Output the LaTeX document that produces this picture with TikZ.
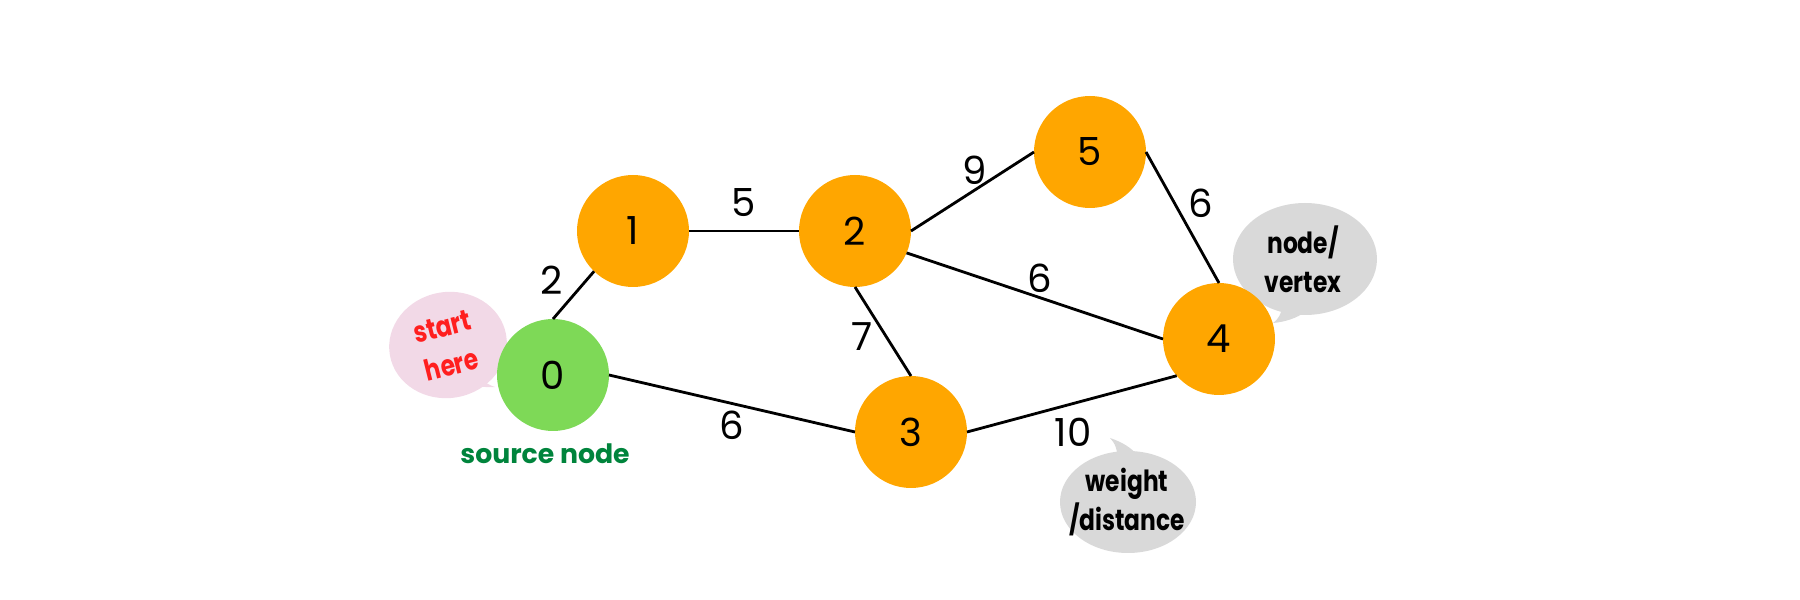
\documentclass[tikz,border=0pt]{standalone}
\usepackage{fontspec}
\setmainfont{Poppins}
\newfontfamily\bubfont{Poppins}[FakeStretch=0.8]
\definecolor{vorange}{HTML}{FFA600}
\definecolor{vgreen}{HTML}{7ED957}
\definecolor{srcgreen}{HTML}{00843C}
\definecolor{bubpink}{HTML}{F2D9E7}
\definecolor{bubgray}{HTML}{D9D9D9}
\definecolor{hintred}{HTML}{FF1F1F}
\begin{document}
\begin{tikzpicture}[
  vertex/.style={circle,fill=vorange,minimum size=1.12cm,inner sep=0pt,outer sep=0pt,font=\fontsize{11}{13}\selectfont},
  wlabel/.style={inner sep=1pt,font=\fontsize{11}{13}\selectfont},
  bubtext/.style={align=center,font=\bubfont\bfseries\fontsize{8.3}{11.2}\selectfont},
  edge/.style={line width=0.8pt}]
\useasboundingbox (0,0) rectangle (18,6);
% speech bubbles
\fill[bubpink,rotate around={10:(4.48,2.55)}](4.48,2.55) ellipse (0.59 and 0.53);
\fill[bubpink](4.62,2.14) .. controls (4.75,2.15) and (4.85,2.12) .. (4.95,2.13)
  .. controls (4.85,2.16) and (4.80,2.22) .. (4.78,2.30) -- cycle;
\fill[bubgray](13.05,3.41) ellipse (0.72 and 0.56);
\fill[bubgray](12.82,3.00) .. controls (12.83,2.90) and (12.80,2.82) .. (12.73,2.77)
  .. controls (12.85,2.78) and (12.97,2.82) .. (13.05,2.88) -- cycle;
\fill[bubgray](11.28,0.98) ellipse (0.68 and 0.51);
\fill[bubgray](11.17,1.40) .. controls (11.18,1.50) and (11.15,1.57) .. (11.10,1.62)
  .. controls (11.22,1.58) and (11.32,1.52) .. (11.38,1.44) -- cycle;
\node[bubtext,text=hintred,rotate=14] (hint) at (4.47,2.54) {start\\here};
\node[bubtext] (vtx) at (13.03,3.41) {node/\\vertex};
\node[bubtext] (wdist) at (11.27,0.98) {weight\\/distance};
% vertices
\node[vertex,fill=vgreen] (n0) at (5.53,2.25) {0};
\node[vertex] (n1) at (6.33,3.69) {1};
\node[vertex] (n2) at (8.55,3.69) {2};
\node[vertex] (n3) at (9.11,1.68) {3};
\node[vertex] (n4) at (12.19,2.61) {4};
\node[vertex] (n5) at (10.90,4.48) {5};
\node[text=srcgreen,font=\bfseries\fontsize{7.6}{10}\selectfont] (src) at (5.45,1.46) {source node};
% edges
\draw[edge](n0.north)--(n1.226);
\draw[edge](n1.east)--(n2.west);
\draw[edge](n2.east)--(n5.west);
\draw[edge](n2.-23)--(n4.west);
\draw[edge](n2.south)--(n3.north);
\draw[edge](n0.east)--(n3.west);
\draw[edge](n3.east)--(n4.221);
\draw[edge](n5.east)--(n4.north);
% weights
\node[wlabel] (w01) at (5.52,3.20) {2};
\node[wlabel] (w12) at (7.44,3.97) {5};
\node[wlabel] (w25) at (9.75,4.30) {9};
\node[wlabel] (w54) at (12.01,3.97) {6};
\node[wlabel] (w24) at (10.40,3.22) {6};
\node[wlabel] (w23) at (8.62,2.63) {7};
\node[wlabel] (w03) at (7.32,1.75) {6};
\node[wlabel] (w34) at (10.73,1.68) {10};
\end{tikzpicture}
\end{document}
